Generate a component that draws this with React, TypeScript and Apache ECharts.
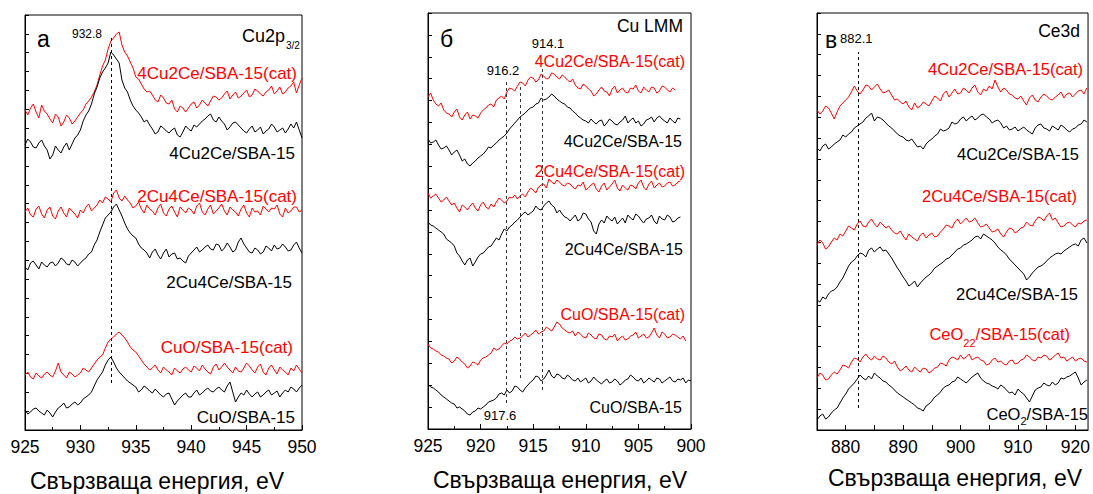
import React, { useEffect, useRef } from "react";
import * as echarts from "echarts";

const FONT = "'Liberation Sans', Arial, Helvetica, sans-serif";
const RED = "#ff0000";
const BLACK = "#000000";

// ---------- panel а : Cu2p3/2 (binding energy 925 → 950 eV, 0.25 eV step) ----------
const A_E_START = 925;
const A_E_STEP = 0.25;
const A_CU42_CAT = [320,315,322,326,318,312,325,319,316,311,307,316,313,304,308,315,312,306,309,313,317,320,326,329,333,338,345,355,364,370,381,389,392,396,398,385,378,374,368,362,353,351,346,341,338,339,335,330,328,335,332,327,326,330,321,318,324,322,318,322,326,328,322,325,330,327,324,329,334,333,330,332,336,339,331,335,338,332,334,337,340,333,335,341,339,336,334,338,340,344,336,339,343,336,338,342,344,348,337,345,352];
const A_CU42 = [285,291,288,283,282,287,290,284,280,271,275,284,280,277,283,287,280,286,292,295,300,309,315,319,326,336,343,352,358,362,367,378,375,371,367,350,342,338,330,324,320,317,313,308,310,305,301,296,298,304,302,299,297,300,302,295,293,298,304,301,299,305,303,306,309,311,314,316,310,308,313,309,306,300,303,307,308,305,302,299,297,301,304,298,300,303,296,299,301,306,303,298,300,302,297,301,306,302,308,300,292];
const A_CU24_CAT = [218,222,215,213,221,224,216,212,220,223,214,211,219,223,217,213,222,219,216,212,220,217,223,226,219,222,225,230,227,233,231,228,237,240,232,229,234,230,227,222,224,228,221,217,225,221,219,215,222,226,217,214,221,224,218,213,223,220,217,222,220,216,224,227,218,215,221,225,216,219,222,226,219,215,223,220,218,214,221,225,217,213,222,218,219,215,224,221,218,222,221,225,216,213,222,217,219,223,223,218,220];
const A_CU24 = [163,160,167,169,165,161,168,165,163,167,168,164,167,172,170,166,165,170,168,164,167,170,172,176,178,185,190,198,205,212,215,218,223,226,220,214,207,201,197,194,192,186,182,180,177,172,178,181,175,171,177,181,173,176,177,171,172,169,167,174,177,180,183,178,180,183,185,181,180,186,185,179,182,187,183,178,180,188,192,186,182,178,177,182,180,176,178,184,182,179,185,181,182,186,183,179,180,185,188,182,177];
const A_CUO_CAT = [55,58,53,51,57,54,52,56,58,55,53,59,67,58,55,52,58,56,53,55,57,62,60,58,62,66,70,73,75,82,88,91,93,96,98,95,92,88,83,80,78,74,70,66,63,60,62,65,60,57,63,60,58,55,62,59,57,61,63,60,58,64,62,59,65,61,58,56,63,66,60,63,67,63,60,57,63,59,58,62,67,64,60,57,63,66,58,55,62,65,60,56,63,60,58,55,62,59,65,61,57];
const A_CUO = [20,16,18,21,22,19,17,15,20,17,13,18,22,24,27,22,23,26,28,25,27,31,33,35,38,44,50,54,58,65,70,73,68,62,58,55,52,49,47,45,43,38,40,44,42,39,37,41,38,35,33,36,37,31,25,29,32,35,37,33,33,37,40,35,37,40,42,39,38,41,43,40,38,44,48,38,28,33,37,35,40,36,33,36,38,33,35,38,40,35,37,39,33,37,40,38,43,41,38,42,45];
const A_PEAKS = [{ e: 932.8, from: 47, to: 392 }];

// ---------- panel б : Cu LMM (925 → 900 eV, 0.25 eV step) ----------
const B_E_START = 925;
const B_E_STEP = -0.25;
const B_CU42_CAT = [332,336,329,325,323,326,319,316,315,312,317,320,312,309,314,317,310,314,313,311,316,319,321,324,325,322,329,331,333,330,337,341,340,338,343,347,346,343,349,352,351,347,349,355,353,350,351,356,355,352,350,354,352,349,347,350,344,341,340,345,343,340,338,333,335,339,342,338,337,333,340,343,336,339,341,337,336,341,340,344,338,336,342,339,337,342,341,336,338,343,342,339,337,341,339];
const B_CU42 = [290,286,287,289,284,280,281,283,279,274,277,279,274,268,270,265,263,266,268,271,273,275,278,282,281,284,286,289,291,293,296,300,303,306,309,312,314,316,319,321,322,325,326,331,329,330,332,335,333,330,328,326,325,322,321,318,316,313,311,309,308,306,310,307,305,308,309,303,306,310,308,305,304,307,309,313,306,309,311,306,308,303,305,309,310,312,307,311,313,310,308,306,311,308,306,311,310];
const B_CU24_CAT = [236,231,233,235,231,227,229,232,228,224,226,221,217,224,222,219,223,226,221,218,224,227,222,220,225,222,227,231,229,226,228,232,231,234,230,233,235,232,237,241,239,236,242,244,245,241,250,247,245,249,247,244,243,246,245,242,240,244,243,247,239,241,244,246,240,237,243,246,239,242,245,249,241,238,244,241,239,244,243,240,246,249,242,239,245,248,241,244,246,242,243,246,247,243,244,247,248];
const B_CU24 = [207,204,203,201,199,197,195,190,188,186,183,176,173,168,164,169,171,163,167,172,175,176,179,182,183,187,191,189,195,200,198,202,204,207,209,212,215,217,214,216,218,223,220,219,223,226,228,224,222,216,219,215,212,211,208,211,214,208,210,216,215,210,207,198,195,205,209,206,213,210,208,212,205,208,211,206,214,211,209,215,213,209,206,210,211,214,208,205,213,210,209,214,212,207,208,211,212];
const B_CUO_CAT = [85,81,80,78,77,74,73,71,70,66,68,72,70,67,65,61,63,67,66,64,69,71,72,74,76,81,79,80,83,86,85,88,89,92,90,91,93,96,92,94,96,99,95,97,98,102,100,98,102,107,105,101,99,97,96,98,93,97,95,92,91,96,94,91,90,95,94,90,89,93,92,95,88,91,93,89,90,93,94,97,91,93,95,91,92,96,101,94,91,97,95,91,92,95,94,92,90,93,88];
const B_CUO = [45,42,41,39,37,34,32,30,28,26,25,21,22,20,18,15,14,17,18,21,20,22,24,27,28,29,31,35,36,34,39,36,38,43,42,39,37,41,44,47,49,53,52,48,50,54,59,53,51,55,54,51,50,54,52,49,48,51,47,49,51,46,48,52,49,47,45,48,50,46,47,50,48,44,46,49,50,54,52,49,48,51,46,48,51,49,47,51,50,46,48,50,52,48,47,50,49,51,46,49,48];
const B_PEAKS = [
  { e: 917.6, from: 26, to: 347 },
  { e: 916.2, from: 51, to: 344 },
  { e: 914.1, from: 39, to: 361 },
];

// ---------- panel в : Ce3d (875 → 922 eV, 0.5 eV step) ----------
const C_E_START = 875;
const C_E_STEP = 0.5;
const C_CU42_CAT = [320,316,319,324,322,317,311,318,324,327,330,333,338,344,339,336,340,345,344,340,343,346,341,337,338,340,335,330,331,328,326,329,323,320,327,322,324,328,326,324,329,334,332,329,336,339,333,337,341,336,337,342,340,337,342,345,338,335,341,339,344,341,350,343,338,342,340,336,335,332,331,334,329,325,332,335,330,328,333,336,334,331,330,333,335,338,332,336,337,333,336,339,340,336,342];
const C_CU42 = [282,279,284,286,281,283,286,288,290,295,293,296,298,302,304,306,308,312,314,317,309,313,312,310,307,304,302,299,296,294,293,290,289,291,287,283,284,281,286,289,291,294,296,301,299,300,302,308,306,307,311,313,309,312,314,310,312,315,316,313,311,307,309,310,307,302,304,300,301,303,299,301,303,300,298,296,302,305,306,302,301,299,304,302,300,305,303,300,298,301,302,305,306,310,308];
const C_CU24_CAT = [185,190,187,181,183,188,192,190,196,194,199,204,202,200,206,209,204,203,208,211,206,203,208,205,202,204,200,197,196,199,194,190,196,193,191,189,195,197,192,195,197,193,194,198,201,205,204,202,208,211,206,209,212,208,209,212,207,203,204,206,202,198,199,201,196,193,198,202,201,197,199,202,203,208,205,204,209,213,212,209,214,217,210,212,207,203,204,207,208,205,203,207,206,209,210];
const C_CU24 = [130,128,133,131,136,139,140,143,148,152,158,164,168,170,174,177,176,173,180,182,178,181,183,179,180,176,172,167,162,158,153,149,144,146,149,143,147,150,153,155,158,162,164,166,168,171,172,175,178,181,182,185,186,188,190,193,194,191,196,194,192,190,187,183,180,178,175,171,168,165,162,159,156,150,153,157,160,163,164,166,169,172,174,176,177,176,179,181,183,185,186,184,190,192,187];
const C_CEO2_CAT = [52,57,55,50,51,55,58,56,60,65,64,62,68,72,71,68,73,76,72,70,74,71,70,74,72,68,66,69,63,59,61,64,60,58,63,60,58,62,61,57,59,62,63,67,66,64,70,73,72,70,75,71,73,76,70,72,73,70,69,65,66,70,72,68,69,66,65,69,70,66,67,70,71,75,73,70,69,73,72,75,74,70,72,75,77,72,73,69,71,73,69,71,72,69,68];
const C_CEO2 = [10,14,16,11,13,17,20,22,27,32,36,41,44,47,51,55,52,50,54,51,57,54,52,49,48,45,43,40,37,35,33,31,29,27,25,22,21,19,24,26,29,33,35,38,42,44,45,48,49,53,51,49,47,50,53,55,57,52,49,47,46,44,43,41,45,43,40,37,38,35,41,38,36,32,28,34,40,42,43,47,45,44,48,45,47,52,51,53,54,56,58,52,45,48,50];
const C_PEAKS = [{ e: 882.1, from: 22, to: 378 }];

const AXIS_TITLE = "Свързваща енергия, eV";

type Peak = { e: number; from: number; to: number };

function makeSeries(
  idx: number,
  values: number[],
  start: number,
  step: number,
  color: string,
  peaks?: Peak[],
  dashColor?: string
) {
  const s: any = {
    type: "line",
    xAxisIndex: idx,
    yAxisIndex: idx,
    data: values.map((v, i) => [start + i * step, v]),
    symbol: "none",
    showSymbol: false,
    silent: true,
    lineStyle: { color, width: 1 },
    itemStyle: { color },
    emphasis: { disabled: true },
  };
  if (peaks) {
    s.markLine = {
      silent: true,
      symbol: ["none", "none"],
      animation: false,
      label: { show: false },
      emphasis: { disabled: true },
      lineStyle: { type: [3, 3], color: dashColor || BLACK, width: 1 },
      data: peaks.map((p) => [{ coord: [p.e, p.from] }, { coord: [p.e, p.to] }]),
    };
  }
  return s;
}

function xAxisBase(idx: number, extra: any) {
  return {
    gridIndex: idx,
    type: "value",
    interval: 5,
    axisLine: { show: true, lineStyle: { color: BLACK, width: 1 } },
    axisTick: { show: true, inside: true, length: 5, lineStyle: { color: BLACK } },
    axisLabel: { color: BLACK, fontSize: 17.5, fontFamily: FONT, margin: 8 },
    splitLine: { show: false },
    minorSplitLine: { show: false },
    ...extra,
  };
}

function yAxisBase(idx: number, h: number, n: number) {
  return {
    gridIndex: idx,
    type: "value",
    min: 0,
    max: h,
    interval: h / n,
    axisLine: { show: true, lineStyle: { color: BLACK, width: 1 } },
    axisTick: { show: true, inside: true, length: 4, lineStyle: { color: BLACK } },
    axisLabel: { show: false },
    splitLine: { show: false },
  };
}

export default function App() {
  const ref = useRef<HTMLDivElement>(null);

  useEffect(() => {
    if (!ref.current) return;
    const chart = echarts.init(ref.current, undefined, { renderer: "svg" });

    const cv = document.createElement("canvas").getContext("2d") as CanvasRenderingContext2D;
    const tw = (t: string, s: number) => {
      cv.font = `${s}px ${FONT}`;
      return cv.measureText(t).width;
    };
    const txt = (text: string, x: number, baseline: number, size: number, color: string, align: string) => ({
      type: "text",
      x,
      y: baseline - 0.3465 * size,
      silent: true,
      style: {
        text,
        fill: color,
        font: `${size}px ${FONT}`,
        textAlign: align,
        textVerticalAlign: "middle",
      },
    });

    const graphics: any[] = [];
    // panel а
    graphics.push(txt("а", 37, 47, 23, BLACK, "left"));
    graphics.push(txt("932.8", 87, 38.5, 12, BLACK, "center"));
    graphics.push(txt("Cu2p", 285, 42, 18, BLACK, "right"));
    graphics.push(txt("3/2", 286, 49, 10, BLACK, "left"));
    graphics.push(txt("4Cu2Ce/SBA-15(cat)", 297, 79, 17, RED, "right"));
    graphics.push(txt("4Cu2Ce/SBA-15", 295, 159, 17, BLACK, "right"));
    graphics.push(txt("2Cu4Ce/SBA-15(cat)", 297, 202, 17, RED, "right"));
    graphics.push(txt("2Cu4Ce/SBA-15", 292, 288, 17, BLACK, "right"));
    graphics.push(txt("CuO/SBA-15(cat)", 293, 353, 17, RED, "right"));
    graphics.push(txt("CuO/SBA-15", 295, 423, 17, BLACK, "right"));
    graphics.push(txt(AXIS_TITLE, 157, 489, 23, BLACK, "center"));
    // panel б
    graphics.push(txt("б", 440, 47, 23, BLACK, "left"));
    graphics.push(txt("Cu LMM", 683, 32, 17.5, BLACK, "right"));
    graphics.push(txt("914.1", 548, 48, 13, BLACK, "center"));
    graphics.push(txt("916.2", 503, 75, 13, BLACK, "center"));
    graphics.push(txt("917.6", 500, 420, 13, BLACK, "center"));
    graphics.push(txt("4Cu2Ce/SBA-15(cat)", 685, 67, 16, RED, "right"));
    graphics.push(txt("4Cu2Ce/SBA-15", 682, 147, 16, BLACK, "right"));
    graphics.push(txt("2Cu4Ce/SBA-15(cat)", 685, 177, 16, RED, "right"));
    graphics.push(txt("2Cu4Ce/SBA-15", 683, 255, 16, BLACK, "right"));
    graphics.push(txt("CuO/SBA-15(cat)", 685, 320, 16, RED, "right"));
    graphics.push(txt("CuO/SBA-15", 682, 413, 16, BLACK, "right"));
    graphics.push(txt(AXIS_TITLE, 560, 488, 23, BLACK, "center"));
    // panel в
    graphics.push(txt("в", 825, 48, 23, BLACK, "left"));
    graphics.push(txt("882.1", 840, 43, 13, BLACK, "left"));
    graphics.push(txt("Ce3d", 1080, 37, 17.5, BLACK, "right"));
    graphics.push(txt("4Cu2Ce/SBA-15(cat)", 1083, 75, 16.5, RED, "right"));
    graphics.push(txt("4Cu2Ce/SBA-15", 1079, 160, 16.5, BLACK, "right"));
    graphics.push(txt("2Cu4Ce/SBA-15(cat)", 1077, 202, 16.5, RED, "right"));
    graphics.push(txt("2Cu4Ce/SBA-15", 1078, 300, 16.5, BLACK, "right"));
    {
      const r = 1070;
      const w3 = tw("/SBA-15(cat)", 16.5);
      const w2 = tw("22", 11);
      graphics.push(txt("/SBA-15(cat)", r, 340, 16.5, RED, "right"));
      graphics.push(txt("22", r - w3, 346.5, 11, RED, "right"));
      graphics.push(txt("CeO", r - w3 - w2, 340, 16.5, RED, "right"));
    }
    {
      const r = 1088;
      const w3 = tw("/SBA-15", 16.5);
      const w2 = tw("2", 11);
      graphics.push(txt("/SBA-15", r, 420, 16.5, BLACK, "right"));
      graphics.push(txt("2", r - w3, 425, 11, BLACK, "right"));
      graphics.push(txt("CeO", r - w3 - w2, 420, 16.5, BLACK, "right"));
    }
    graphics.push(txt(AXIS_TITLE, 955, 486, 23, BLACK, "center"));

    const option: any = {
      animation: false,
      backgroundColor: "#ffffff",
      textStyle: { fontFamily: FONT },
      grid: [
        { left: 25, top: 15, width: 277, height: 415, show: true, borderColor: BLACK, borderWidth: 1, backgroundColor: "transparent" },
        { left: 428, top: 13, width: 263, height: 416, show: true, borderColor: BLACK, borderWidth: 1, backgroundColor: "transparent" },
        { left: 817, top: 13, width: 272, height: 417, show: true, borderColor: BLACK, borderWidth: 1, backgroundColor: "transparent" },
      ],
      xAxis: [
        xAxisBase(0, {
          min: 925,
          max: 950,
          minorTick: { show: true, splitNumber: 2, length: 3, lineStyle: { color: BLACK } },
        }),
        xAxisBase(1, {
          min: 900,
          max: 925,
          inverse: true,
          minorTick: { show: true, splitNumber: 2, length: 3, lineStyle: { color: BLACK } },
        }),
        xAxisBase(2, {
          min: 875,
          max: 922.2,
          axisLabel: {
            color: BLACK,
            fontSize: 17.5,
            fontFamily: FONT,
            margin: 8,
            showMaxLabel: false,
            formatter: (v: number) => (Math.abs(v % 10) < 1e-6 ? String(v) : ""),
          },
        }),
      ],
      yAxis: [yAxisBase(0, 415, 22), yAxisBase(1, 416, 19), yAxisBase(2, 417, 20)],
      series: [
        makeSeries(0, A_CU42_CAT, A_E_START, A_E_STEP, RED),
        makeSeries(0, A_CU42, A_E_START, A_E_STEP, BLACK, A_PEAKS, BLACK),
        makeSeries(0, A_CU24_CAT, A_E_START, A_E_STEP, RED),
        makeSeries(0, A_CU24, A_E_START, A_E_STEP, BLACK),
        makeSeries(0, A_CUO_CAT, A_E_START, A_E_STEP, RED),
        makeSeries(0, A_CUO, A_E_START, A_E_STEP, BLACK),
        makeSeries(1, B_CU42_CAT, B_E_START, B_E_STEP, RED),
        makeSeries(1, B_CU42, B_E_START, B_E_STEP, BLACK, B_PEAKS, "#333333"),
        makeSeries(1, B_CU24_CAT, B_E_START, B_E_STEP, RED),
        makeSeries(1, B_CU24, B_E_START, B_E_STEP, BLACK),
        makeSeries(1, B_CUO_CAT, B_E_START, B_E_STEP, RED),
        makeSeries(1, B_CUO, B_E_START, B_E_STEP, BLACK),
        makeSeries(2, C_CU42_CAT, C_E_START, C_E_STEP, RED),
        makeSeries(2, C_CU42, C_E_START, C_E_STEP, BLACK, C_PEAKS, BLACK),
        makeSeries(2, C_CU24_CAT, C_E_START, C_E_STEP, RED),
        makeSeries(2, C_CU24, C_E_START, C_E_STEP, BLACK),
        makeSeries(2, C_CEO2_CAT, C_E_START, C_E_STEP, RED),
        makeSeries(2, C_CEO2, C_E_START, C_E_STEP, BLACK),
      ],
      graphic: graphics,
    };

    chart.setOption(option);
    return () => chart.dispose();
  }, []);

  return (
    <div
      ref={ref}
      style={{ position: "absolute", left: 0, top: 0, width: 1093, height: 494, background: "#fff" }}
    />
  );
}
